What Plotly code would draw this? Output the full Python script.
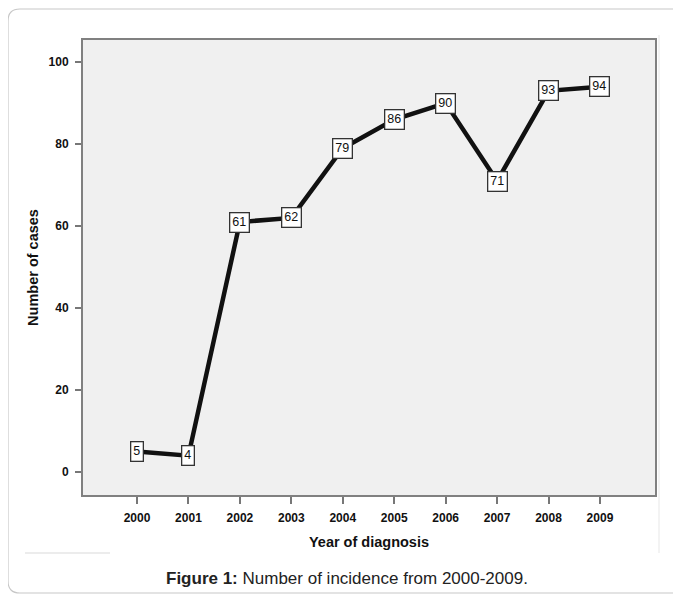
import plotly.graph_objects as go

years = [2000, 2001, 2002, 2003, 2004, 2005, 2006, 2007, 2008, 2009]
cases = [5, 4, 61, 62, 79, 86, 90, 71, 93, 94]
year_labels = [str(y) for y in years]
y_ticks = [0, 20, 40, 60, 80, 100]

W, H = 681, 595
OFF = 8  # page body margin offset
L, R, T, B = 83 - OFF, 655 - OFF, 40 - OFF, 495 - OFF
PW, PH = R - L, B - T


def px(x):
    # x given in screen pixels
    return (x - OFF - L) / PW


def py(y):
    return (B - (y - OFF)) / PH


font_family = "Liberation Sans, Arial, sans-serif"

fig = go.Figure()
fig.add_trace(go.Scatter(
    x=years, y=cases, mode="lines",
    line=dict(color="#111111", width=4.5),
    hoverinfo="skip", showlegend=False,
))

# data labels
for x, y in zip(years, cases):
    fig.add_annotation(
        x=x, y=y, xref="x", yref="y", text=str(y), showarrow=False,
        font=dict(family=font_family, size=12.5, color="#111111"),
        bgcolor="white", bordercolor="#333333", borderwidth=1.3, borderpad=2,
    )

# frame (rounded rectangle, right side off-page)
r = 12
x0, y0, x1, y1 = 8, 9, 720, 593
path = (f"M {px(x0)} {py(y0 + r)} Q {px(x0)} {py(y0)} {px(x0 + r)} {py(y0)} "
        f"L {px(x1)} {py(y0)} L {px(x1)} {py(y1)} L {px(x0 + r)} {py(y1)} "
        f"Q {px(x0)} {py(y1)} {px(x0)} {py(y1 - r)} Z")
shapes = [
    dict(type="path", xref="paper", yref="paper", path=path,
         line=dict(color="#c8c8c8", width=1.2), layer="below"),
    dict(type="line", xref="paper", yref="paper",
         x0=px(25), x1=px(110), y0=py(553), y1=py(553),
         line=dict(color="#e6e6e6", width=1.5)),
    dict(type="line", xref="paper", yref="paper",
         x0=px(659), x1=px(659), y0=py(35), y1=py(553),
         line=dict(color="#efefef", width=1.5)),
]

fig.update_layout(
    width=W, height=H,
    margin=dict(l=L, r=W - R, t=T, b=H - B, autoexpand=False),
    paper_bgcolor="white", plot_bgcolor="#f0f0f0",
    font=dict(family=font_family, color="#111111"),
    shapes=shapes,
    xaxis=dict(
        range=[1998.95, 2010.07], tickmode="array", tickvals=years, ticktext=year_labels,
        ticks="outside", ticklen=7, tickwidth=2, tickcolor="#777777",
        tickfont=dict(size=12, color="#111111", weight="bold"),
        showline=True, linecolor="#808080", linewidth=2, mirror=True,
        showgrid=False, zeroline=False, ticklabelstandoff=4,
        title=dict(text="<b>Year of diagnosis</b>", font=dict(size=14.5), standoff=12),
    ),
    yaxis=dict(
        range=[-5.6, 105.4], tickmode="array", tickvals=y_ticks,
        ticks="outside", ticklen=6, tickwidth=2, tickcolor="#777777",
        tickfont=dict(size=12, color="#111111", weight="bold"),
        showline=True, linecolor="#808080", linewidth=2, mirror=True,
        showgrid=False, zeroline=False, ticklabelstandoff=4,
        title=dict(text="<b>Number of cases</b>", font=dict(size=14.5), standoff=6),
    ),
)

fig.add_annotation(
    xref="paper", yref="paper", x=px(347), y=py(578), xanchor="center", yanchor="middle",
    text="<b>Figure 1:</b> Number of incidence from 2000-2009.", showarrow=False,
    font=dict(size=17, color="#222222"),
)

fig.write_html("out.html")
